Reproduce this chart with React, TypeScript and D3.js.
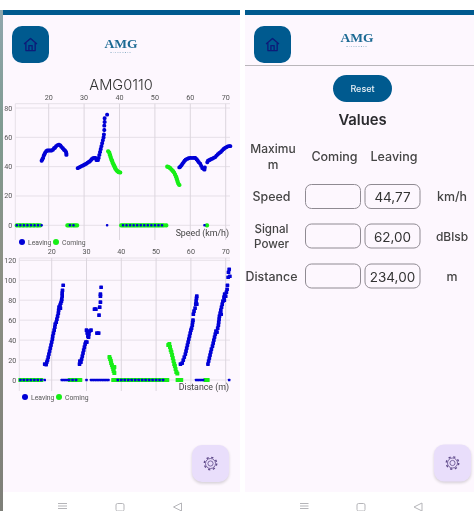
import React from "react";
import * as d3 from "d3";

const BLUE = "#0000d6";
const GREEN = "#14ee14";
const APP = "#005a8f";

const speedTicksX = [20, 30, 40, 50, 60, 70];
const speedTicksY = [0, 20, 40, 60, 80];
const distTicksY = [0, 20, 40, 60, 80, 100, 120];

type P = [number, number];

const speedLeaving: P[] = [
  [18, 44], [18.2, 45], [18.4, 46], [18.6, 47.5], [18.8, 48.5], [19, 49.5], [19.3, 50.5], [19.6, 51], [20, 51], [20.4, 51], [20.8, 51], [21.2, 51.5], [21.5, 52.5], [21.8, 53], [22.1, 54], [22.5, 54.7], [22.9, 55], [23.3, 54.5], [23.6, 53.5], [24, 52.5], [24.3, 51.5], [24.6, 51], [24.9, 50], [25, 49], [25, 48],
  [28.2, 39], [28.6, 39.5], [29, 40], [29.4, 40.5], [29.8, 41], [30.2, 41.5], [30.6, 42], [31, 42.7], [31.4, 43.3], [31.8, 44], [32.1, 45], [32.5, 45.7], [32.9, 46], [33.2, 46], [33.5, 44.5], [33.9, 44.5], [34.1, 46], [34.3, 48], [34.5, 50], [34.7, 52], [34.9, 54], [35.1, 56], [35.3, 58], [35.5, 60], [35.6, 62], [35.7, 65], [35.7, 68], [35.8, 70.5], [35.8, 73], [36.5, 75.5],
  [56.9, 39.5], [57.2, 40], [57.5, 41], [57.8, 42], [58.1, 43], [58.4, 44], [58.7, 44.7], [59.1, 45.3], [59.5, 45.7], [60, 46], [60.5, 46], [61, 46], [61.4, 46], [61.8, 45], [62.1, 44], [62.4, 43], [62.8, 42], [63.1, 40.5], [63.4, 39], [63.8, 38.5], [64, 38], [64.1, 39.5],
  [64.8, 43], [65, 44], [65.4, 44.5], [65.8, 45], [66.2, 45.5], [66.6, 46], [67, 46.5], [67.4, 47.5], [67.8, 48.5], [68.2, 49.3], [68.6, 50], [69, 51], [69.4, 52], [69.8, 52.7], [70.2, 53.3], [70.6, 53.8], [71, 54], [71.3, 54],
  [11, 0], [12, 0], [13, 0], [14, 0], [15, 0], [16, 0], [17, 0], [18, 0], [26, 0], [27, 0], [36.5, 0], [41, 0], [42, 0], [43, 0], [44, 0], [45, 0], [46, 0], [47, 0], [48, 0], [49, 0], [50, 0], [51, 0], [52, 0], [64, 0],
];

const speedComing: P[] = [
  [36.8, 50.5], [37.1, 49.5], [37.3, 48], [37.5, 46.5], [37.7, 45], [37.9, 44], [38.1, 42.5], [38.3, 41.5], [38.5, 40.5], [38.7, 39.5], [38.9, 38.5], [39.2, 37.5], [39.5, 36.8], [39.8, 36.2], [40.2, 36],
  [53.5, 40], [53.9, 39.7], [54.3, 39], [54.7, 38], [55.1, 37], [55.4, 36], [55.7, 34.5], [56, 33], [56.2, 31.5], [56.4, 30], [56.6, 28.5], [56.9, 27.5],
  [11, 0], [11.6, 0], [12, 0], [12.6, 0], [13, 0], [13.6, 0], [14, 0], [14.6, 0], [15, 0], [15.6, 0], [16, 0], [16.6, 0], [17, 0], [17.6, 0],
  [25.3, 0], [25.8, 0], [26.4, 0], [27, 0], [27.5, 0], [28, 0],
  [40.5, 0], [41, 0], [41.5, 0], [42, 0], [42.5, 0], [43, 0], [43.5, 0], [44, 0], [44.5, 0], [45, 0], [45.5, 0], [46, 0], [46.5, 0], [47, 0], [47.5, 0], [48, 0], [48.5, 0], [49, 0], [49.5, 0], [50, 0], [50.5, 0], [51, 0], [51.5, 0], [52, 0], [52.5, 0], [53.2, 0],
  [64.7, 0],
];

const distLeaving: P[] = [
  [18, 16], [18.4, 15.5], [18.6, 18], [18.8, 20], [19, 23], [19.2, 26], [19.4, 29], [19.6, 32], [19.8, 35], [20, 38], [20.2, 41], [20.3, 44], [20.5, 47], [20.7, 50], [20.9, 53], [21, 56], [21.3, 58], [21.5, 61], [21.7, 64], [21.9, 67], [22, 70], [22.1, 73], [22.4, 75], [22.5, 72], [22.6, 77], [22.8, 79], [22.9, 81], [23, 84], [23, 87], [23.1, 90], [23.3, 95],
  [28, 16], [28.1, 19], [28.4, 18], [28.6, 21], [28.8, 24], [29, 27], [29.2, 30], [29.4, 33], [29.6, 36], [29.8, 38], [30.1, 38], [30, 50], [30.2, 47], [30.4, 44], [30.6, 43], [30.7, 46], [30.9, 49], [31.3, 50], [32.3, 71], [32.7, 71], [33, 47], [33.5, 47], [33.6, 65], [33.8, 73], [34, 78], [34, 84], [34, 86], [34.2, 93],
  [57, 16], [57.5, 17], [57.8, 20], [58.1, 23], [58.4, 26], [58.6, 29], [58.8, 32], [59, 35], [59.2, 38], [59.4, 41], [59.6, 44], [59.8, 47], [60, 50], [60.2, 52], [60.4, 55], [60.5, 58], [60.6, 60], [60.7, 66], [60.9, 69], [61.2, 72], [61.4, 76], [61.7, 76], [61.5, 79], [61.6, 82], [61.7, 84],
  [64.9, 16], [65.1, 19], [65.3, 22], [65.5, 25], [65.7, 28], [65.9, 31], [66.2, 34], [66.4, 37], [66.6, 40], [66.8, 43], [67, 46], [67.2, 49], [67.5, 48], [67.7, 52], [67.9, 55], [68, 58], [68.1, 61], [68.2, 64], [68.4, 67], [68.6, 70], [68.7, 66], [68.8, 73], [69, 76], [69.2, 79], [69.6, 80], [69.5, 83], [69.7, 86], [70, 84], [70.2, 88], [70.4, 91], [70.5, 95], [70.7, 103], [71.2, 104], [70.8, 108], [71, 111],
  [11, 0], [12, 0], [13, 0], [14, 0], [15, 0], [16, 0], [17, 0], [18, 0], [22.9, 0], [23.4, 0], [23.9, 0], [24.4, 0], [25, 0], [26, 0], [27, 0], [30, 0], [31.3, 0], [31.8, 0], [32.3, 0], [32.8, 0], [33.3, 0], [33.8, 0], [34.3, 0], [34.8, 0], [35.3, 0], [35.8, 0], [36.3, 0], [39, 0], [40, 0], [41, 0], [42, 0], [43, 0], [44, 0], [45, 0], [46, 0], [47, 0], [48, 0], [49, 0], [50, 0], [51, 0], [52, 0], [61.5, 0], [62, 0], [62.5, 0], [63, 0], [63.5, 0], [71, 0],
];

const distComing: P[] = [
  [36.6, 23], [36.8, 21], [37, 19], [37.1, 17], [37.3, 15], [37.5, 13], [37.7, 11], [37.8, 9], [38, 7], [38, 13],
  [53.5, 35], [53.8, 36], [54, 33], [54.2, 30], [54.4, 28], [54.6, 25], [54.8, 22], [55, 19], [55.2, 16], [55.4, 14], [55.6, 11], [55.8, 8], [56.1, 6.5],
  [11, 0], [11.6, 0], [12.4, 0], [13, 0], [13.6, 0], [14.4, 0], [15, 0], [15.6, 0], [16.4, 0], [17, 0],
  [25.2, 0], [25.8, 0], [26.4, 0], [27, 0], [27.6, 0], [28.2, 0],
  [37.7, 0], [38.2, 0], [38.7, 0], [39.3, 0], [39.8, 0], [40.4, 0], [41, 0], [41.5, 0], [42, 0], [42.5, 0], [43, 0], [43.5, 0], [44, 0], [44.5, 0], [45, 0], [45.5, 0], [46, 0], [46.5, 0], [47, 0], [47.5, 0], [48, 0], [48.5, 0], [49, 0], [49.5, 0], [50, 0], [50.5, 0], [51, 0], [51.5, 0], [52, 0], [52.6, 0], [53.2, 0],
  [56.2, 0], [56.7, 0], [57.2, 0], [64.2, 0], [64.8, 0],
];

const rowNames = ["Speed", "Signal\nPower", "Distance"];
const leavingValues = ["44,77", "62,00", "234,00"];
const rowUnits = ["km/h", "dBlsb", "m"];

const LABEL = "Roboto, sans-serif";
const UI = "Inter, 'Noto Sans', sans-serif";

function Chart({ x0, x70, xLeft, xRight, y0, yMaxPx, yMaxVal, top, bottom, ticksY, leaving, coming, size, square, title, legX, legY, labelY, yHead }: any) {
  const x = d3.scaleLinear().domain([20, 70]).range([x0, x70]);
  const y = d3.scaleLinear().domain([0, yMaxVal]).range([y0, yMaxPx]);
  const mark = (d: P, i: number, c: string, s: number) => (
    <rect key={c + i} x={x(d[0]) - s / 2} y={y(d[1]) - s / 2} width={s} height={s} rx={square ? 0.6 : s / 2.4} fill={c} />
  );
  return (
    <g>
      <line x1={xLeft} x2={xRight} y1={top} y2={top} stroke="#e6e0e8" />
      <line x1={xLeft} x2={xLeft} y1={top} y2={bottom} stroke="#e6e0e8" />
      {ticksY.map((t: number) => (
        <g key={t}>
          <line x1={xLeft} x2={xRight} y1={y(t)} y2={y(t)} stroke="#e6e0e8" />
          <text x={xLeft - 3} y={y(t) + 2.5} fontSize={7.2} textAnchor="end" fill="#555" fontFamily={LABEL}>{t}</text>
        </g>
      ))}
      {speedTicksX.map((t) => (
        <g key={t}>
          <line x1={x(t)} x2={x(t)} y1={top} y2={bottom} stroke="#dcd6de" />
          <text x={x(t)} y={yHead} fontSize={7.2} textAnchor="middle" fill="#555" fontFamily={LABEL}>{t}</text>
        </g>
      ))}
      {coming.map((d: P, i: number) => mark(d, i, GREEN, d[1] === 0 ? size + 0.4 : size + 0.3))}
      {leaving.map((d: P, i: number) => mark(d, i, BLUE, d[1] === 0 ? 2.5 : size))}
      <text x={229} y={labelY} fontSize={8.8} textAnchor="end" fill="#444" fontFamily={LABEL}>{title}</text>
      <circle cx={legX} cy={legY} r={3} fill={BLUE} />
      <text x={legX + 6} y={legY + 2.5} fontSize={6.8} fill="#555" fontFamily={LABEL}>Leaving</text>
      <circle cx={legX + 34} cy={legY} r={3} fill={GREEN} />
      <text x={legX + 40} y={legY + 2.5} fontSize={6.8} fill="#555" fontFamily={LABEL}>Coming</text>
    </g>
  );
}

function Home({ cx, cy }: { cx: number; cy: number }) {
  return (
    <g transform={`translate(${cx - 7},${cy - 7}) scale(1.17)`} fill="none" stroke="#0a1a78" strokeWidth={1.1} strokeLinejoin="round">
      <path d="M0.5 5.5 L6 0.8 L11.5 5.5 M2 4.5 V11.2 H10 V4.5 M4.6 11.2 V7 H7.4 V11.2" />
    </g>
  );
}

function Gear({ cx, cy }: { cx: number; cy: number }) {
  return (
    <g fill="none" stroke="#5f4a8a">
      <circle cx={cx} cy={cy} r={2.6} strokeWidth={0.8} />
      <circle cx={cx} cy={cy} r={5} strokeWidth={0.8} />
      <circle cx={cx} cy={cy} r={6.2} strokeWidth={1.4} strokeDasharray="2.2 2.67" />
    </g>
  );
}

function Logo({ cx, y }: { cx: number; y: number }) {
  return (
    <g textAnchor="middle">
      <text x={cx} y={y} fontSize={13.5} fontWeight={700} fill="#1d6a94" fontFamily="'Liberation Serif', serif">AMG</text>
      <text x={cx} y={y + 4.9} fontSize={2} letterSpacing={1.1} fill="#5f93b0" fontFamily={LABEL}>MICROWAVE</text>
    </g>
  );
}

function Fab({ x, y }: { x: number; y: number }) {
  return (
    <g>
      <rect x={x} y={y + 1.5} width={37} height={37} rx={10} fill="#000" opacity={0.16} filter="url(#soft)" />
      <rect x={x} y={y} width={37} height={37} rx={10} fill="#e9defb" />
      <Gear cx={x + 18.5} cy={y + 18.5} />
    </g>
  );
}

export default function App() {
  const rowY = [196.5, 236, 276];
  return (
    <svg width={474} height={511} style={{ position: "absolute", left: 0, top: 0, background: "#fff" }}>
      <defs>
        <filter id="soft" x="-20%" y="-20%" width="140%" height="140%"><feGaussianBlur stdDeviation="1.6" /></filter>
        <filter id="blur"><feGaussianBlur stdDeviation="0.35" /></filter>
        <linearGradient id="strip" x1="0" x2="0" y1="0" y2="1">
          <stop offset="0" stopColor="#8fa6ad" />
          <stop offset="0.25" stopColor="#7f9a90" />
          <stop offset="0.5" stopColor="#8c9085" />
          <stop offset="1" stopColor="#7e7f78" />
        </linearGradient>
      </defs>
      <g filter="url(#blur)">
        <rect x={0} y={10} width={3} height={501} fill="url(#strip)" />
        <rect x={3} y={15} width={237} height={477} fill="#fdf7fe" />
        <rect x={245} y={15} width={229} height={477} fill="#fdf7fe" />
        <rect x={3} y={10} width={237} height={5} fill={APP} />
        <rect x={245} y={10} width={229} height={5} fill={APP} />

        <rect x={12} y={26} width={37} height={37} rx={10} fill={APP} />
        <Home cx={30.5} cy={44.5} />
        <Logo cx={121} y={48} />
        <text x={121} y={90} fontSize={14.6} textAnchor="middle" fill="#333" fontFamily={UI} fontWeight={300}>AMG0110</text>

        <Chart x0={48.7} x70={225.7} xLeft={15.3} xRight={230} y0={225.3} yMaxPx={108} yMaxVal={80} top={103.7} bottom={240}
          ticksY={speedTicksY} leaving={speedLeaving} coming={speedComing} size={3.9} title="Speed (km/h)" legX={22} legY={242} labelY={236} yHead={100} />
        <Chart x0={51.7} x70={225.7} xLeft={19.3} xRight={230} y0={380} yMaxPx={260.3} yMaxVal={120} top={258} bottom={391}
          ticksY={distTicksY} leaving={distLeaving} coming={distComing} size={3.7} square title="Distance (m)" legX={25} legY={397} labelY={390} yHead={254} />

        <Fab x={192} y={445} />

        <rect x={254} y={26} width={37} height={37} rx={10} fill={APP} />
        <Home cx={272.5} cy={44.5} />
        <Logo cx={357} y={42} />
        <line x1={245} x2={474} y1={65.5} y2={65.5} stroke="#b9b6ba" strokeWidth={1} />
        <rect x={333} y={75} width={59} height={27} rx={13.5} fill={APP} />
        <text x={362.5} y={92} fontSize={9} fontWeight={500} textAnchor="middle" fill="#e8f0f6" fontFamily={UI}>Reset</text>
        <text x={362.5} y={125} fontSize={14.8} fontWeight={600} textAnchor="middle" fill="#2a2a2e" fontFamily={UI}>Values</text>

        <g fontFamily={UI} fontWeight={500} fill="#444" textAnchor="middle">
          <text x={273} y={153} fontSize={12}>Maximu</text>
          <text x={273} y={169} fontSize={12}>m</text>
          <text x={334.5} y={161} fontSize={12.5}>Coming</text>
          <text x={394} y={161} fontSize={12.5}>Leaving</text>
          {rowNames.map((name, i) => {
            const lines = name.split("\n");
            return (
              <g key={name}>
                {lines.map((l, j) => (
                  <text key={l} x={271.5} y={rowY[i] + 4.5 + (j - (lines.length - 1) / 2) * 15} fontSize={lines.length > 1 ? 11.6 : 12.4}>{l}</text>
                ))}
                <rect x={305.5} y={rowY[i] - 12} width={55} height={24} rx={6} fill="none" stroke="#8f8a92" />
                <rect x={365} y={rowY[i] - 12} width={55} height={24} rx={6} fill="none" stroke="#8f8a92" />
                <text x={392.5} y={rowY[i] + 5.5} fontSize={13.5} fontWeight={400} fill="#333">{leavingValues[i]}</text>
                <text x={452} y={rowY[i] + 4.5} fontSize={i === 1 ? 12 : 12.4}>{rowUnits[i]}</text>
              </g>
            );
          })}
        </g>

        <Fab x={434} y={444.5} />

        <g fill="none" stroke="#b5b5b9" strokeWidth={1}>
          <path d="M58 503.5 H67 M58 506 H67 M58 508.5 H67" />
          <rect x={116} y={503.5} width={8} height={7.5} rx={1.5} />
          <path d="M181.5 503 L173.5 507 L181.5 511 Z" />
          <path d="M300 503.5 H308.5 M300 506 H308.5 M300 508.5 H308.5" />
          <rect x={357} y={503.5} width={8} height={7.5} rx={1.5} />
          <path d="M422 503 L414 507 L422 511 Z" />
        </g>
      </g>
    </svg>
  );
}
